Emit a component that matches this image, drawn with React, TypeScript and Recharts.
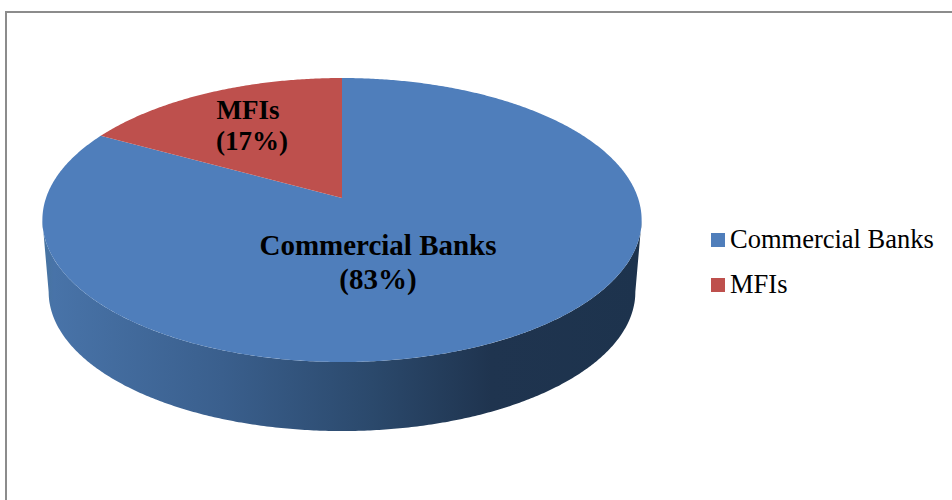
import { Legend, Pie, PieChart } from 'recharts';

const categories = ['Commercial Banks', 'MFIs'];
const shares = [83, 17];
const colors = ['#4F7EBB', '#BE504D'];

const data = categories.map((name, i) => ({ name, value: shares[i], fill: colors[i] }));

const SERIF = '"Liberation Serif", "Times New Roman", serif';

// tilt of the disc: how much the back is squeezed and the vertical foreshortening
const TILT = 0.155;
const FLATTEN = 0.4682;
const WALL_DROP = 72.5;
const WALL_SCALE = 0.979;
// angle where the disc outline turns from the back edge to the front edge
const SILHOUETTE = (Math.asin(TILT) * 180) / Math.PI;

const LABEL_SPOTS: Record<string, { x: number; x2: number; y: number; size: number; gap: number }> = {
  'Commercial Banks': { x: 378, x2: 378, y: 255, size: 29, gap: 34 },
  MFIs: { x: 248, x2: 252, y: 119, size: 27, gap: 31 },
};

function project(cx: number, cy: number, r: number, deg: number) {
  const a = (deg * Math.PI) / 180;
  const u = Math.cos(a);
  const v = Math.sin(a);
  const d = 1 + TILT * v;
  return [cx + (r * u) / d, cy - (r * FLATTEN * v) / d];
}

// walks from one angle to another in small steps, so the perspective ellipse stays smooth
function arc(cx: number, cy: number, r: number, from: number, to: number) {
  const steps = Math.max(2, Math.ceil(Math.abs(to - from) * 2));
  const pts: string[] = [];
  for (let i = 0; i <= steps; i++) {
    const [x, y] = project(cx, cy, r, from + ((to - from) * i) / steps);
    pts.push(`${x.toFixed(2)} ${y.toFixed(2)}`);
  }
  return pts;
}

function DiscSlice(props: any) {
  const { cx, cy, outerRadius, startAngle, endAngle, fill } = props;
  const top = arc(cx, cy, outerRadius, startAngle, endAngle);
  const face = `M${cx} ${cy} L${top.join(' L')} Z`;

  // the wall only exists along the front of the disc
  const frontFrom = Math.min(startAngle, -SILHOUETTE);
  const frontTo = Math.max(endAngle, -180 + SILHOUETTE);
  let wall = null;
  if (frontFrom > frontTo) {
    const upper = arc(cx, cy, outerRadius, frontFrom, frontTo);
    const lower = arc(cx, cy + WALL_DROP, outerRadius * WALL_SCALE, frontTo, frontFrom);
    wall = <path d={`M${upper.join(' L')} L${lower.join(' L')} Z`} fill="url(#wallShade)" />;
  }

  return (
    <g>
      <defs>
        <linearGradient id="wallShade" gradientUnits="userSpaceOnUse" x1="42" y1="0" x2="641" y2="0">
          <stop offset="0" stopColor="#47749F" />
          <stop offset="0.02" stopColor="#4873A8" />
          <stop offset="0.3" stopColor="#3A5F8D" />
          <stop offset="0.55" stopColor="#2B496C" />
          <stop offset="0.75" stopColor="#1F344F" />
          <stop offset="1" stopColor="#1D334D" />
        </linearGradient>
      </defs>
      {wall}
      <path d={face} fill={fill} />
    </g>
  );
}

function renderLabel(props: any) {
  const spot = LABEL_SPOTS[props.name];
  const pct = `(${Math.round(props.percent * 100)}%)`;
  return (
    <text
      textAnchor="middle"
      fontFamily={SERIF}
      fontWeight="bold"
      fontSize={spot.size}
      fill="#000"
    >
      <tspan x={spot.x} y={spot.y}>{props.name}</tspan>
      <tspan x={spot.x2} y={spot.y + spot.gap}>{pct}</tspan>
    </text>
  );
}

function LegendList() {
  return (
    <div style={{ fontFamily: SERIF, fontSize: 26.5, color: '#000' }}>
      {categories.map((name, i) => (
        <div key={name} style={{ display: 'flex', alignItems: 'center', height: 45 }}>
          <span
            style={{ width: 14, height: 14, background: colors[i], marginRight: 5, flex: 'none' }}
          />
          <span style={{ whiteSpace: 'nowrap' }}>{name}</span>
        </div>
      ))}
    </div>
  );
}

export default function App() {
  return (
    <div
      style={{
        position: 'absolute',
        left: 0,
        top: 0,
        width: 952,
        height: 500,
        overflow: 'hidden',
        background: '#fff',
      }}
    >
      <div
        style={{
          position: 'absolute',
          left: 5,
          top: 11,
          width: 1000,
          height: 600,
          borderLeft: '2px solid #8c8c8c',
          borderTop: '2px solid #8c8c8c',
        }}
      />
      <PieChart
        width={952}
        height={500}
        margin={{ top: 0, right: 0, bottom: 0, left: 0 }}
        style={{ position: 'absolute', left: 0, top: 0 }}
      >
        <Pie
          data={data}
          dataKey="value"
          nameKey="name"
          cx={342}
          cy={198}
          outerRadius={296}
          startAngle={90}
          endAngle={-270}
          stroke="none"
          isAnimationActive={false}
          shape={DiscSlice}
          label={renderLabel}
          labelLine={false}
        />
        <Legend
          content={LegendList}
          layout="vertical"
          wrapperStyle={{ left: 711, top: 217, width: 241, bottom: 'auto' }}
        />
      </PieChart>
    </div>
  );
}
